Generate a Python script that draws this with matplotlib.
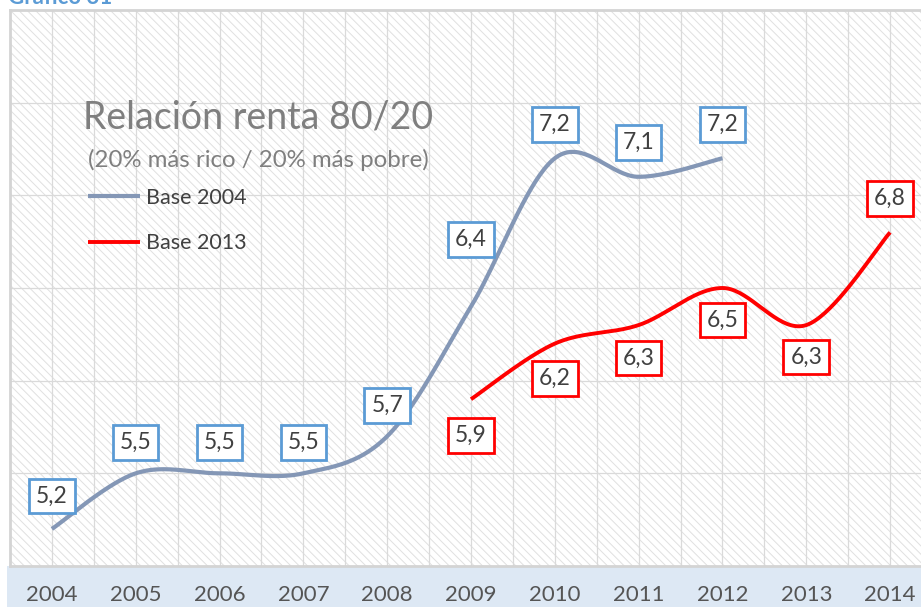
import numpy as np
import matplotlib
matplotlib.use('Agg')
import matplotlib.pyplot as plt
from matplotlib.patches import Rectangle

# datos
years_2004 = [2004, 2005, 2006, 2007, 2008, 2009, 2010, 2011, 2012]
base_2004 = [5.2, 5.5, 5.5, 5.5, 5.7, 6.4, 7.2, 7.1, 7.2]
years_2013 = [2009, 2010, 2011, 2012, 2013, 2014]
base_2013 = [5.9, 6.2, 6.3, 6.5, 6.3, 6.8]
labels_2004 = ['5,2', '5,5', '5,5', '5,5', '5,7', '6,4', '7,2', '7,1', '7,2']
labels_2013 = ['5,9', '6,2', '6,3', '6,5', '6,3', '6,8']
# desplazamiento vertical de las etiquetas (px, + arriba)
off_2004 = [33, 31, 31, 31, 31, 67, 34, 34, 34]
off_2013 = [-36, -35, -33, -32, -32, 34]
xticks = list(range(2004, 2015))

W, H = 921, 607
plt.rcParams['font.family'] = ['Lato', 'DejaVu Sans']
plt.rcParams['hatch.color'] = '#e0e0e0'
plt.rcParams['hatch.linewidth'] = 0.7


def smooth(x, y, n=40):
    # curva suavizada tipo Excel (Catmull-Rom / Bezier)
    p = np.column_stack([x, y]).astype(float)
    p = np.vstack([p[0], p, p[-1]])
    out = []
    t = np.linspace(0, 1, n)[:, None]
    for i in range(1, len(p) - 2):
        p0, p3 = p[i], p[i + 1]
        c1 = p0 + (p[i + 1] - p[i - 1]) / 6.0
        c2 = p3 - (p[i + 2] - p[i]) / 6.0
        seg = (1 - t)**3 * p0 + 3 * (1 - t)**2 * t * c1 + 3 * (1 - t) * t**2 * c2 + t**3 * p3
        out.append(seg if i == 1 else seg[1:])
    out = np.vstack(out)
    return out[:, 0], out[:, 1]


fig = plt.figure(figsize=(W / 100, H / 100), dpi=100)

# banda azul del eje
fig.patches.append(Rectangle((7 / W, 0), 1, 41 / H, transform=fig.transFigure,
                             facecolor='#dde8f4', edgecolor='none', zorder=-5))

ax = fig.add_axes([10 / W, 41 / H, 922 / W, 556 / H])
ax.patch.set_facecolor('white')
ax.patch.set_hatch('\\\\\\\\')
ax.patch.set_edgecolor('#e0e0e0')
ax.patch.set_linewidth(0)

ax.set_xlim(2003.5, 2014.5)
ax.set_ylim(5.0, 8.0)
ax.set_yticks(np.arange(5.0, 8.01, 0.5))
ax.set_xticks(np.arange(2003.5, 2014.6, 0.5), minor=True)
ax.set_xticks(xticks)
ax.set_xticklabels([str(v) for v in xticks], fontsize=16, color='#555555')
ax.tick_params(axis='x', which='both', length=0, pad=14)
ax.tick_params(axis='y', length=0, labelleft=False)
ax.grid(True, which='both', color='#dadada', linewidth=0.9)
ax.set_axisbelow(True)
for s in ['left', 'top', 'bottom']:
    ax.spines[s].set_color('#d4d4d4')
    ax.spines[s].set_linewidth(2)
ax.spines['right'].set_visible(False)

xs, ys = smooth(years_2004, base_2004)
ax.plot(xs, ys, color='#8497b6', linewidth=3, solid_capstyle='butt', label='Base 2004', zorder=3)
xs, ys = smooth(years_2013, base_2013)
ax.plot(xs, ys, color='#ff0000', linewidth=2.8, solid_capstyle='butt', label='Base 2013', zorder=3)

for x, y, lab, o in zip(years_2004, base_2004, labels_2004, off_2004):
    ax.annotate(lab, (x, y), xytext=(0, o), textcoords='offset pixels', ha='center', va='center',
                fontsize=16.5, color='#404040', zorder=5,
                bbox=dict(boxstyle='square,pad=0.3', facecolor='white', edgecolor='#5b9bd5', linewidth=2))
for x, y, lab, o in zip(years_2013, base_2013, labels_2013, off_2013):
    ax.annotate(lab, (x, y), xytext=(0, o), textcoords='offset pixels', ha='center', va='center',
                fontsize=16.5, color='#404040', zorder=5,
                bbox=dict(boxstyle='square,pad=0.3', facecolor='white', edgecolor='#ff0000', linewidth=2))

# titulo dentro del grafico
fig.text(83 / W, 1 - 118 / H, 'Relación renta 80/20', fontsize=27, color='#7f7f7f', va='center', ha='left')
fig.text(88 / W, 1 - 160 / H, '(20% más rico / 20% más pobre)', fontsize=17.3, color='#7f7f7f',
         va='center', ha='left')
ax.legend(loc='upper left', bbox_to_anchor=(88 / W, 1 - 188 / H), bbox_transform=fig.transFigure,
          frameon=False, fontsize=15.5, labelcolor='#404040', handlelength=2.4, handletextpad=0.3,
          labelspacing=1.18, borderpad=0, borderaxespad=0)

fig.text(8 / W, 1 - 4 / H, 'Gráfico 31', fontsize=16, color='#5b9bd5', fontweight='bold',
         va='baseline', ha='left')

fig.savefig('out.png', dpi=100)
